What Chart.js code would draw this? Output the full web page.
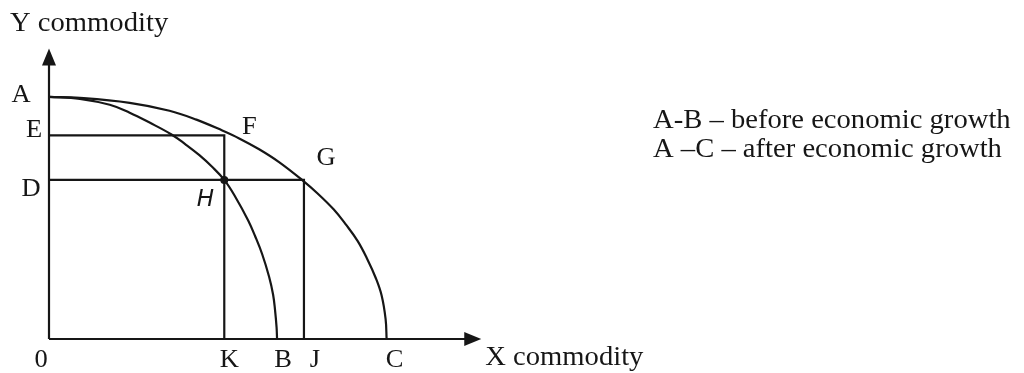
<!DOCTYPE html>
<html>
<head>
<meta charset="utf-8">
<script src="https://cdn.jsdelivr.net/npm/chart.js@4"></script>
<style>
  html, body { margin: 0; padding: 0; background: #ffffff; }
  #wrap { width: 1024px; height: 373px; }
</style>
</head>
<body>
<div id="wrap"><canvas id="c" width="1024" height="373"></canvas></div>
<script>
// ---- data ----
// production possibility frontier before growth (A-B)
const beforeX = [0, 31, 61, 81, 101, 123, 137, 151, 164, 176, 187, 200, 207, 214, 221, 225, 227, 228.5, 229];
const beforeY = [245, 243, 237, 229, 219, 207, 197, 186, 174, 161, 144, 120, 104, 86, 63, 45, 29, 12, 0];
// production possibility frontier after growth (A-C)
const afterX = [0, 31, 81, 121, 148, 174, 191, 211, 231, 254, 270, 286, 298, 310, 320, 328, 334, 338, 339];
const afterY = [245, 244, 239, 231, 222, 211, 203, 192, 179, 161, 147, 131, 116, 99, 80, 62, 44, 20, 0];
// reference levels
const levelE = 206, levelD = 161;     // Y commodity at E and D
const pointK = 176, pointJ = 256;     // X commodity at K and J
const pointB = 229, pointC = 339, levelA = 245;
const axisXEnd = 434, axisYEnd = 294;
const legendLines = ['A-B \u2013 before economic growth', 'A \u2013C \u2013 after economic growth'];

const ink = '#161616';

function seg(x1, y1, x2, y2) { return [{x: x1, y: y1}, {x: x2, y: y2}]; }
function pts(xs, ys) { return xs.map((x, i) => ({x: x, y: ys[i]})); }

const lineStyle = { showLine: true, borderColor: ink, borderWidth: 2.2, pointRadius: 0, fill: false, clip: false, tension: 0 };

const datasets = [
  Object.assign({ label: 'Y axis', data: seg(0, 0, 0, axisYEnd - 12) }, lineStyle),
  Object.assign({ label: 'X axis', data: seg(0, 0, axisXEnd - 12, 0) }, lineStyle),
  Object.assign({}, lineStyle, { label: 'A-B', data: pts(beforeX, beforeY), tension: 0.4 }),
  Object.assign({}, lineStyle, { label: 'A-C', data: pts(afterX, afterY), tension: 0.4 }),
  Object.assign({ label: 'E', data: [{x: 0, y: levelE}, {x: pointK, y: levelE}, {x: pointK, y: 0}] }, lineStyle),
  Object.assign({ label: 'D', data: [{x: 0, y: levelD}, {x: pointJ, y: levelD}, {x: pointJ, y: 0}] }, lineStyle),
  { label: 'H', data: [{x: pointK, y: levelD}], showLine: false, pointRadius: 4, pointBackgroundColor: ink, pointBorderWidth: 0, clip: false }
];

const labelPlugin = {
  id: 'labels',
  afterDatasetsDraw(chart) {
    const ctx = chart.ctx;
    const xs = chart.scales.x, ys = chart.scales.y;
    const px = v => xs.getPixelForValue(v), py = v => ys.getPixelForValue(v);
    ctx.save();
    ctx.fillStyle = ink;
    // arrowheads
    ctx.beginPath();
    ctx.moveTo(px(0), py(axisYEnd));
    ctx.lineTo(px(0) - 7, py(axisYEnd) + 17);
    ctx.lineTo(px(0) + 7, py(axisYEnd) + 17);
    ctx.closePath(); ctx.fill();
    ctx.beginPath();
    ctx.moveTo(px(axisXEnd), py(0));
    ctx.lineTo(px(axisXEnd) - 17, py(0) - 7);
    ctx.lineTo(px(axisXEnd) - 17, py(0) + 7);
    ctx.closePath(); ctx.fill();

    function txt(s, x, y, size, align, style) {
      ctx.save();
      ctx.font = (style || '') + ' ' + size + 'px "Liberation Serif", "Times New Roman", serif';
      ctx.textAlign = align || 'center';
      ctx.textBaseline = 'middle';
      ctx.translate(x, y);
      ctx.scale(1.06, 1);
      ctx.fillText(s, 0, 0);
      ctx.restore();
    }
    const L = 25;
    txt('A', px(0) - 28, py(levelA) - 1, L);
    txt('E', px(0) - 15, py(levelE) - 5, L);
    txt('D', px(0) - 18, py(levelD) + 10, L);
    txt('F', px(pointK) + 25, py(levelE) - 8, L);
    txt('G', px(pointJ) + 22, py(levelD) - 21, L);
    ctx.save();
    ctx.font = 'italic 23px "DejaVu Sans", sans-serif';
    ctx.textAlign = 'center'; ctx.textBaseline = 'middle';
    ctx.fillText('H', px(pointK) - 19, py(levelD) + 20);
    ctx.restore();
    txt('0', px(0) - 8, py(0) + 21, L);
    txt('K', px(pointK) + 5, py(0) + 21, L);
    txt('B', px(pointB) + 6, py(0) + 21, L);
    txt('J', px(pointJ) + 11, py(0) + 21, L);
    txt('C', px(pointC) + 8, py(0) + 21, L);
    txt('X commodity', px(axisXEnd) + 4, py(0) + 19, 27, 'left');
    txt('Y commodity', px(0) - 39, py(axisYEnd) - 25, 27, 'left');
    txt(legendLines[0], 653, 121, 27, 'left');
    txt(legendLines[1], 653, 150, 27, 'left');
    ctx.restore();
  }
};

new Chart(document.getElementById('c'), {
  type: 'scatter',
  data: { datasets: datasets },
  options: {
    responsive: false,
    devicePixelRatio: 1,
    animation: false,
    layout: { padding: { left: 49, right: 0, top: 0, bottom: 34 } },
    plugins: { legend: { display: false }, tooltip: { enabled: false } },
    scales: {
      x: { type: 'linear', min: 0, max: 975, display: false },
      y: { type: 'linear', min: 0, max: 339, display: false }
    }
  },
  plugins: [labelPlugin]
});
</script>
</body>
</html>
